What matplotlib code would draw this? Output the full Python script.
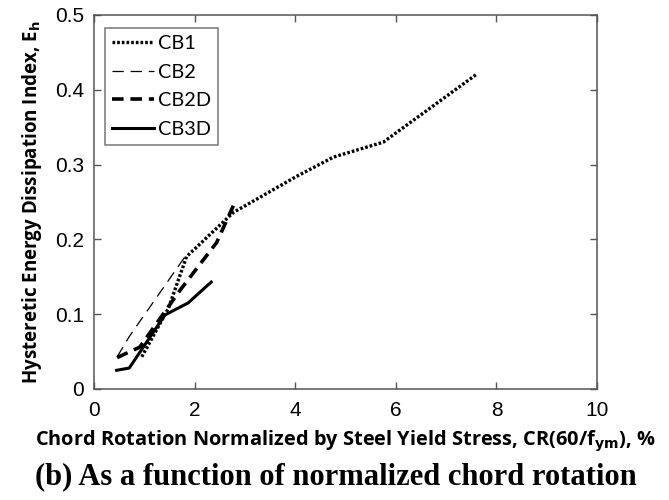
import matplotlib
matplotlib.use("Agg")
import matplotlib.pyplot as plt

cb1_x = [0.95, 1.48, 1.84, 2.77, 4.02, 4.76, 5.75, 7.61]
cb1_y = [0.043, 0.108, 0.177, 0.236, 0.284, 0.310, 0.330, 0.421]
cb2_x = [0.46, 0.70, 1.81]
cb2_y = [0.043, 0.070, 0.177]
cb2d_x = [0.46, 0.91, 1.71, 2.44, 2.77]
cb2d_y = [0.042, 0.056, 0.132, 0.196, 0.245]
cb3d_x = [0.45, 0.70, 1.41, 1.87, 2.33]
cb3d_y = [0.025, 0.028, 0.099, 0.115, 0.143]

fig = plt.figure(figsize=(6.69, 5.0), dpi=100)
ax = fig.add_axes([0.1405, 0.222, 0.752, 0.748])

ax.plot(cb1_x, cb1_y, color='black', lw=2.4, linestyle=(0, (0.8, 0.6)), label='CB1')
ax.plot(cb2_x, cb2_y, color='black', lw=0.9, linestyle=(0, (9, 5.5)), label='CB2')
ax.plot(cb2d_x, cb2d_y, color='black', lw=2.6, linestyle=(0, (3.2, 1.9)), label='CB2D')
ax.plot(cb3d_x, cb3d_y, color='black', lw=2.2, linestyle='-', label='CB3D')

ax.set_xlim(0, 10)
ax.set_ylim(0, 0.5)
ax.set_xticks([0, 2, 4, 6, 8, 10])
ax.set_yticks([0, 0.1, 0.2, 0.3, 0.4, 0.5])
ax.set_yticklabels(['0', '0.1', '0.2', '0.3', '0.4', '0.5'])
ax.set_xticklabels(['0', '2', '4', '6', '8', '10'])
ax.tick_params(direction='in', top=True, right=True, length=5, width=1, color='#555555',
               labelsize=15)
ax.tick_params(axis='x', pad=9)
ax.tick_params(axis='y', pad=7)
for lab in ax.get_xticklabels() + ax.get_yticklabels():
    lab.set_fontfamily('Liberation Sans')
for s in ax.spines.values():
    s.set_color('#555555')
    s.set_linewidth(1.1)

ax.set_xlabel('Chord Rotation Normalized by Steel Yield Stress, CR(60/f$_{\\mathbf{ym}}$), %',
              fontsize=14.4, fontweight='bold', family='Open Sans', labelpad=6)
ax.set_ylabel('Hysteretic Energy Dissipation Index, E$_{\\mathbf{h}}$',
              fontsize=13.5, fontweight='bold', family='Open Sans', labelpad=8)

leg = ax.legend(loc='upper left', bbox_to_anchor=(0.022, 0.965), borderaxespad=0,
                frameon=True, fancybox=False,
                edgecolor='#555555', handlelength=2.1, handletextpad=0.2,
                labelspacing=0.58, borderpad=0.35, prop={'family': 'Lato', 'size': 14.3})
leg.get_frame().set_linewidth(1.1)

fig.text(0.502, 0.018, '(b) As a function of normalized chord rotation', ha='center', va='bottom',
         fontsize=22, fontweight='bold', family='Liberation Serif')

fig.savefig('out.png', dpi=100)
